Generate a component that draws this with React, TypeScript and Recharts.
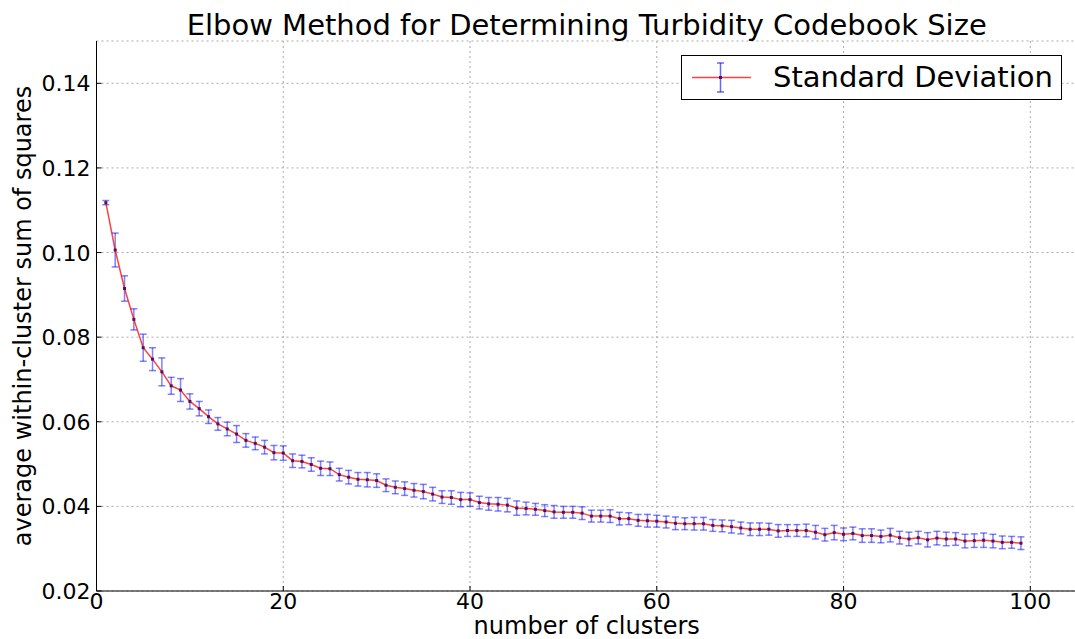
import { CartesianGrid, ErrorBar, Line, LineChart, XAxis, YAxis } from "recharts";

const FONT = '"DejaVu Sans", sans-serif';

const clusters = [
  1, 2, 3, 4, 5, 6, 7, 8, 9, 10, 11, 12, 13, 14, 15, 16, 17, 18, 19, 20,
  21, 22, 23, 24, 25, 26, 27, 28, 29, 30, 31, 32, 33, 34, 35, 36, 37, 38, 39, 40,
  41, 42, 43, 44, 45, 46, 47, 48, 49, 50, 51, 52, 53, 54, 55, 56, 57, 58, 59, 60,
  61, 62, 63, 64, 65, 66, 67, 68, 69, 70, 71, 72, 73, 74, 75, 76, 77, 78, 79, 80,
  81, 82, 83, 84, 85, 86, 87, 88, 89, 90, 91, 92, 93, 94, 95, 96, 97, 98, 99,
];

const wcss = [
  0.1118, 0.1006, 0.0915, 0.0842, 0.0775, 0.0748, 0.0718, 0.0685, 0.0675, 0.0648,
  0.0631, 0.0612, 0.0595, 0.0583, 0.0571, 0.0556, 0.0549, 0.054, 0.0527, 0.0526,
  0.0508, 0.0506, 0.0499, 0.049, 0.0489, 0.0475, 0.0469, 0.0464, 0.0463, 0.0461,
  0.045, 0.0445, 0.0442, 0.0438, 0.0435, 0.0429, 0.0422, 0.0421, 0.0416, 0.0416,
  0.0409, 0.0406, 0.0405, 0.0403, 0.0396, 0.0395, 0.0393, 0.039, 0.0387, 0.0386,
  0.0386, 0.0384, 0.0377, 0.0377, 0.0377, 0.0371, 0.0371, 0.0367, 0.0366, 0.0365,
  0.0363, 0.036, 0.0359, 0.0359, 0.0359, 0.0355, 0.0354, 0.0352, 0.0349, 0.0346,
  0.0346, 0.0346, 0.0342, 0.0343, 0.0343, 0.0343, 0.0339, 0.0333, 0.0338, 0.0334,
  0.0336, 0.0331, 0.0331, 0.0329, 0.0332, 0.0326, 0.0323, 0.0326, 0.0321, 0.0325,
  0.0323, 0.0323, 0.0318, 0.0319, 0.032, 0.0318, 0.0315, 0.0315, 0.0313,
];

const stdDev = [
  0.0005, 0.004, 0.003, 0.0025, 0.0032, 0.0027, 0.0033, 0.002, 0.0027, 0.0018,
  0.0017, 0.0016, 0.0015, 0.0016, 0.002, 0.0016, 0.0015, 0.0016, 0.0017, 0.0017,
  0.0016, 0.0015, 0.0016, 0.0017, 0.0016, 0.0015, 0.0016, 0.0016, 0.0017, 0.0016,
  0.0015, 0.0015, 0.0016, 0.0016, 0.0017, 0.0016, 0.0015, 0.0016, 0.0017, 0.0016,
  0.0015, 0.0015, 0.0016, 0.0016, 0.0017, 0.0015, 0.0014, 0.0014, 0.0015, 0.0014,
  0.0014, 0.0015, 0.0014, 0.0014, 0.0015, 0.0015, 0.0014, 0.0014, 0.0015, 0.0014,
  0.0014, 0.0015, 0.0014, 0.0015, 0.0015, 0.0014, 0.0014, 0.0015, 0.0014, 0.0015,
  0.0015, 0.0014, 0.0015, 0.0014, 0.0014, 0.0015, 0.0016, 0.0015, 0.0017, 0.0015,
  0.0015, 0.0016, 0.0016, 0.0015, 0.0016, 0.0015, 0.0016, 0.0015, 0.0017, 0.0016,
  0.0016, 0.0015, 0.0016, 0.0016, 0.0017, 0.0016, 0.0015, 0.0014, 0.0015,
];

const xTicks = [0, 20, 40, 60, 80, 100];
const yTicks = [0.02, 0.04, 0.06, 0.08, 0.1, 0.12, 0.14];

const data = clusters.map((k, i) => ({ k, wcss: wcss[i], err: stdDev[i] }));

function BottomTick(props: any) {
  const { x, y, payload } = props;
  return (
    <g>
      <line x1={x} y1={y} x2={x} y2={y - 5} stroke="#000" />
      <text x={x} y={y + 18} textAnchor="middle" fontFamily={FONT} fontSize={22} fill="#000">
        {payload.value}
      </text>
    </g>
  );
}

function TopTick(props: any) {
  const { x, y } = props;
  return <line x1={x} y1={y} x2={x} y2={y + 5} stroke="#000" />;
}

function LeftTick(props: any) {
  const { x, y, payload } = props;
  return (
    <g>
      <line x1={x} y1={y} x2={x + 5} y2={y} stroke="#000" />
      <text x={x - 6} y={y + 8} textAnchor="end" fontFamily={FONT} fontSize={22} fill="#000">
        {Number(payload.value).toFixed(2)}
      </text>
    </g>
  );
}

function Dot(props: any) {
  const { cx, cy, index } = props;
  return <rect key={index} x={cx - 1.5} y={cy - 1.5} width={3} height={3} fill="#5a1050" />;
}

export default function App() {
  return (
    <div style={{ position: "absolute", left: 0, top: 0, width: 1075, height: 639, overflow: "hidden", background: "#fff" }}>
      <LineChart width={1090} height={639} data={data} margin={{ top: 41, right: 13, bottom: 0, left: 0 }}>
        <CartesianGrid xAxisId="b" stroke="#aaa" strokeDasharray="2 3" />
        <XAxis
          xAxisId="b"
          dataKey="k"
          type="number"
          domain={[0, 105]}
          ticks={xTicks}
          height={48}
          tickSize={0}
          tickMargin={0}
          tickLine={false}
          axisLine={{ stroke: "#000" }}
          tick={<BottomTick />}
          interval={0}
        />
        <XAxis
          xAxisId="t"
          orientation="top"
          type="number"
          domain={[0, 105]}
          ticks={xTicks}
          height={0}
          tickSize={0}
          tickMargin={0}
          tickLine={false}
          axisLine={{ stroke: "#000" }}
          tick={<TopTick />}
          interval={0}
        />
        <YAxis
          type="number"
          domain={[0.02, 0.15]}
          ticks={yTicks}
          width={96.5}
          tickSize={0}
          tickMargin={0}
          tickLine={false}
          axisLine={{ stroke: "#000" }}
          tick={<LeftTick />}
          interval={0}
          allowDataOverflow
        />
        <Line
          xAxisId="b"
          type="linear"
          dataKey="wcss"
          stroke="#ff0000"
          strokeOpacity={0.75}
          strokeWidth={1.5}
          dot={<Dot />}
          activeDot={false}
          isAnimationActive={false}
        >
          <ErrorBar dataKey="err" direction="y" width={3.5} stroke="#0000ff" strokeOpacity={0.5} strokeWidth={1.5} isAnimationActive={false} />
        </Line>
      </LineChart>
      <svg width={1075} height={639} style={{ position: "absolute", left: 0, top: 0, pointerEvents: "none" }}>
        <text x={586.7} y={35} textAnchor="middle" fontFamily={FONT} fontSize={29} fill="#000">
          Elbow Method for Determining Turbidity Codebook Size
        </text>
        <text x={586.7} y={634} textAnchor="middle" fontFamily={FONT} fontSize={24} fill="#000">
          number of clusters
        </text>
        <text
          x={31}
          y={316}
          textAnchor="middle"
          fontFamily={FONT}
          fontSize={24}
          fill="#000"
          transform="rotate(-90 31 316)"
        >
          average within-cluster sum of squares
        </text>
        <rect x={681.5} y={55.5} width={380} height={44} fill="#fff" stroke="#000" strokeWidth={1} />
        <line x1={692} y1={77.5} x2={751} y2={77.5} stroke="#ff0000" strokeOpacity={0.75} strokeWidth={1.5} />
        <line x1={720.5} y1={63} x2={720.5} y2={92} stroke="#0000ff" strokeOpacity={0.6} strokeWidth={1.5} />
        <line x1={717} y1={63} x2={724} y2={63} stroke="#0000ff" strokeOpacity={0.6} strokeWidth={1.5} />
        <line x1={717} y1={92} x2={724} y2={92} stroke="#0000ff" strokeOpacity={0.6} strokeWidth={1.5} />
        <rect x={719} y={76} width={3} height={3} fill="#5a1050" />
        <text x={773} y={87} fontFamily={FONT} fontSize={29} fill="#000">
          Standard Deviation
        </text>
      </svg>
    </div>
  );
}
